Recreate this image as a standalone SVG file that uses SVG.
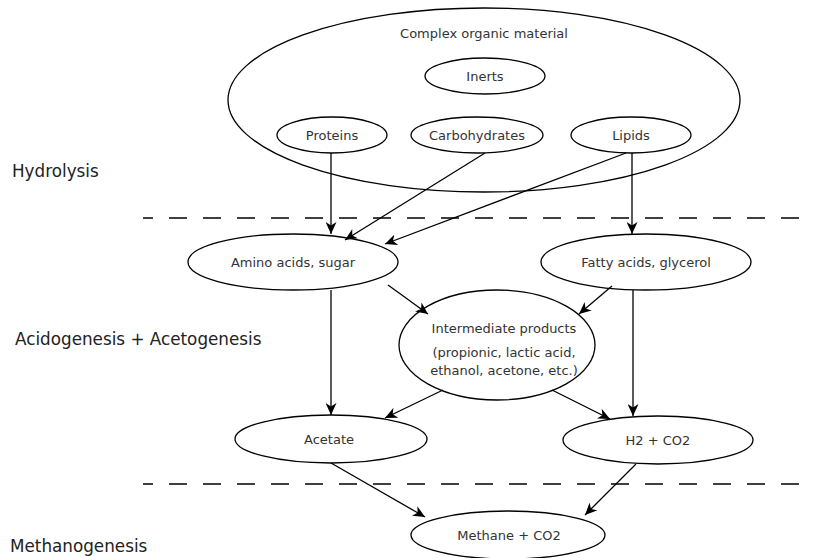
<svg xmlns="http://www.w3.org/2000/svg" width="817" height="558" viewBox="0 0 817 558">
  <defs>
    <style>
      .node { fill: #ffffff; stroke: #000000; stroke-width: 1.3; }
      .lbl { font-family: "DejaVu Sans", "Liberation Sans", sans-serif; font-size: 13px; fill: #333333; text-anchor: middle; }
      .stage { font-family: "DejaVu Sans", "Liberation Sans", sans-serif; font-size: 16.8px; fill: #222222; }
      .edge { fill: none; stroke: #000000; stroke-width: 1.3; marker-end: url(#arrow); }
      .divider { stroke: #000000; stroke-width: 1.3; stroke-dasharray: 18 16; stroke-dashoffset: 8; }
    </style>
    <marker id="arrow" markerUnits="userSpaceOnUse" markerWidth="13" markerHeight="11" refX="12" refY="5.5" orient="auto">
      <path d="M0,0 L12,5.5 L0,11 L3.5,5.5 Z" fill="#000000"/>
    </marker>
  </defs>

  <rect width="817" height="558" fill="#ffffff"/>

  <!-- stage labels -->
  <text class="stage" x="12" y="177">Hydrolysis</text>
  <text class="stage" x="15" y="345">Acidogenesis + Acetogenesis</text>
  <text class="stage" x="10" y="552">Methanogenesis</text>

  <!-- stage dividers -->
  <line class="divider" x1="143" y1="218" x2="800" y2="218"/>
  <line class="divider" x1="143" y1="484" x2="800" y2="484"/>

  <!-- nodes -->
  <g id="complex-organic-material">
    <ellipse class="node" cx="484" cy="100" rx="256" ry="92"/>
    <text class="lbl" x="484" y="38">Complex organic material</text>
  </g>
  <g id="inerts">
    <ellipse class="node" cx="485" cy="76" rx="60" ry="18"/>
    <text class="lbl" x="485" y="81">Inerts</text>
  </g>
  <g id="proteins">
    <ellipse class="node" cx="332" cy="135" rx="55" ry="18"/>
    <text class="lbl" x="332" y="140">Proteins</text>
  </g>
  <g id="carbohydrates">
    <ellipse class="node" cx="477" cy="135" rx="66" ry="18"/>
    <text class="lbl" x="477" y="140">Carbohydrates</text>
  </g>
  <g id="lipids">
    <ellipse class="node" cx="631" cy="135" rx="60" ry="18"/>
    <text class="lbl" x="631" y="140">Lipids</text>
  </g>
  <g id="amino-acids-sugar">
    <ellipse class="node" cx="293" cy="262" rx="105" ry="28"/>
    <text class="lbl" x="293" y="267">Amino acids, sugar</text>
  </g>
  <g id="fatty-acids-glycerol">
    <ellipse class="node" cx="646" cy="262" rx="105" ry="28"/>
    <text class="lbl" x="646" y="267">Fatty acids, glycerol</text>
  </g>
  <g id="intermediate-products">
    <ellipse class="node" cx="497" cy="345" rx="98" ry="55"/>
    <text class="lbl" x="504" y="333">Intermediate products</text>
    <text class="lbl" x="504" y="357">(propionic, lactic acid,</text>
    <text class="lbl" x="504" y="375">ethanol, acetone, etc.)</text>
  </g>
  <g id="acetate">
    <ellipse class="node" cx="331" cy="439" rx="96" ry="24"/>
    <text class="lbl" x="329" y="444">Acetate</text>
  </g>
  <g id="h2-co2">
    <ellipse class="node" cx="658" cy="440" rx="95" ry="24"/>
    <text class="lbl" x="658" y="445">H2 + CO2</text>
  </g>
  <g id="methane-co2">
    <ellipse class="node" cx="508" cy="535" rx="97" ry="24"/>
    <text class="lbl" x="509" y="540">Methane + CO2</text>
  </g>

  <!-- connectors, drawn over the node fills -->
  <g id="connectors">
    <line class="edge" x1="331" y1="153" x2="331" y2="234"/>
    <line class="edge" x1="485" y1="153" x2="345" y2="240"/>
    <line class="edge" x1="626" y1="153" x2="385" y2="244"/>
    <line class="edge" x1="632" y1="153" x2="632" y2="234"/>
    <line class="edge" x1="331" y1="290" x2="331" y2="415"/>
    <line class="edge" x1="388" y1="285" x2="428" y2="314"/>
    <line class="edge" x1="612" y1="286" x2="579" y2="314"/>
    <line class="edge" x1="633" y1="290" x2="633" y2="416"/>
    <line class="edge" x1="443" y1="390" x2="385" y2="418"/>
    <line class="edge" x1="552" y1="390" x2="610" y2="419"/>
    <line class="edge" x1="331" y1="463" x2="425" y2="517"/>
    <line class="edge" x1="636" y1="464" x2="585" y2="515"/>
  </g>
</svg>
